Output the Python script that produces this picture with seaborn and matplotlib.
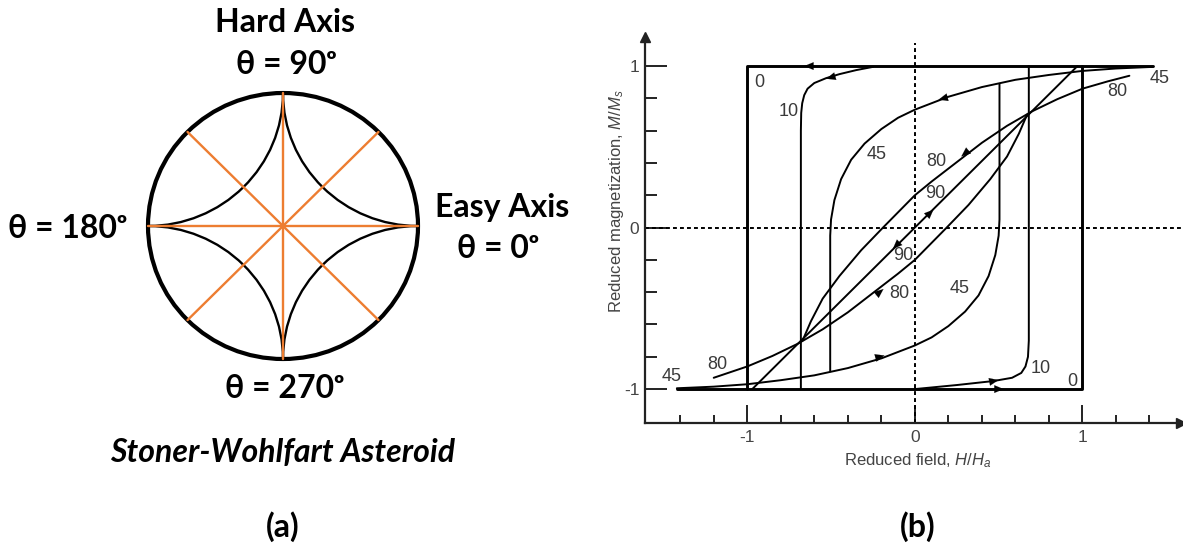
import numpy as np
import matplotlib
matplotlib.use("Agg")
import matplotlib.pyplot as plt
from matplotlib import patches
import seaborn as sns

# ---------------- data : panel (b) hysteresis loops ----------------
sq_top_H = [1.42, -1.0, -1.0]
sq_top_M = [1.0, 1.0, -1.0]
sq_bot_H = [-1.42, 1.0, 1.0]
sq_bot_M = [-1.0, -1.0, 1.0]

h10_up_H = [-0.25, -0.35, -0.45, -0.53, -0.60, -0.64, -0.66, -0.672, -0.678, -0.68, -0.68]
h10_up_M = [0.995, 0.975, 0.95, 0.925, 0.895, 0.86, 0.82, 0.77, 0.71, 0.60, -1.0]
h10_dn_H = [0.0, 0.25, 0.47, 0.58, 0.635, 0.66, 0.675, 0.68, 0.68]
h10_dn_M = [-1.0, -0.975, -0.95, -0.93, -0.90, -0.86, -0.80, -0.70, 1.0]

h45_up_H = [1.42, 1.2, 1.0, 0.8, 0.6, 0.4, 0.2, 0.0, -0.1, -0.2, -0.3, -0.38, -0.44, -0.48, -0.50, -0.505, -0.505]
h45_up_M = [0.995, 0.985, 0.97, 0.945, 0.915, 0.87, 0.81, 0.73, 0.68, 0.61, 0.52, 0.42, 0.30, 0.17, 0.05, -0.05, -0.89]
h45_dn_H = [-1.42, -1.2, -1.0, -0.8, -0.6, -0.4, -0.2, 0.0, 0.1, 0.2, 0.3, 0.38, 0.44, 0.48, 0.50, 0.505, 0.505]
h45_dn_M = [-0.995, -0.985, -0.97, -0.945, -0.915, -0.87, -0.81, -0.73, -0.68, -0.61, -0.52, -0.42, -0.30, -0.17, -0.05, 0.05, 0.89]

h80_up_H = [1.28, 1.15, 1.0, 0.85, 0.7, 0.55, 0.4, 0.3, 0.2, 0.1, 0.0, -0.19, -0.32, -0.45, -0.55, -0.62, -0.67]
h80_up_M = [0.94, 0.905, 0.86, 0.795, 0.72, 0.63, 0.525, 0.445, 0.365, 0.285, 0.2, 0.0, -0.14, -0.30, -0.44, -0.58, -0.70]
h80_dn_H = [-1.2, -1.0, -0.85, -0.7, -0.55, -0.4, -0.3, -0.2, -0.1, 0.0, 0.19, 0.32, 0.45, 0.55, 0.62, 0.67]
h80_dn_M = [-0.93, -0.86, -0.795, -0.72, -0.63, -0.525, -0.445, -0.365, -0.285, -0.2, 0.0, 0.14, 0.30, 0.44, 0.58, 0.70]

h90_H = [-0.97, 0.97]
h90_M = [-1.0, 1.0]

arrow_H = [-0.63, 0.50, -0.50, 0.47, 0.17, -0.21, 0.30, -0.21, 0.09, -0.11]
arrow_M = [1.0, -1.0, 0.93, -0.95, 0.80, -0.80, 0.46, -0.40, 0.09, -0.11]
arrow_dH = [-1, 1, -1, 1, -1, 1, -1, 1, 1, -1]
arrow_dM = [0, 0, -0.3, 0.2, -0.28, 0.28, -0.85, 0.85, 1, -1]

curve_labels = ["0", "10", "45", "80", "45", "80", "90", "90", "80", "45", "45", "80", "10", "0"]
label_H = [-0.93, -0.75, 1.46, 1.21, -0.23, 0.13, 0.12, -0.07, -0.09, 0.27, -1.45, -1.18, 0.75, 0.94]
label_M = [0.90, 0.72, 0.92, 0.84, 0.45, 0.41, 0.21, -0.17, -0.41, -0.38, -0.92, -0.85, -0.87, -0.95]

x_major = [-1, 0, 1]
x_major_labels = ["-1", "0", "1"]
x_minor = [-1.4, -1.2, -0.8, -0.6, -0.4, -0.2, 0.2, 0.4, 0.6, 0.8, 1.2, 1.4]
y_major = [-1, 0, 1]
y_major_labels = ["-1", "0", "1"]
y_minor = [-0.8, -0.6, -0.4, -0.2, 0.2, 0.4, 0.6, 0.8]

# ---------------- data : panel (a) asteroid ----------------
spoke_angles = [0, 45, 90, 135]
arc_centers_x = [1, -1, -1, 1]
arc_centers_y = [1, 1, -1, -1]
arc_start = [180, 270, 0, 90]

sns.set_theme(style="white")
plt.rcParams["mathtext.fontset"] = "custom"
plt.rcParams["mathtext.it"] = "Liberation Sans:italic"
plt.rcParams["mathtext.rm"] = "Liberation Sans"
plt.rcParams["font.family"] = ["Liberation Sans", "DejaVu Sans"]

W, H = 1183, 546
fig = plt.figure(figsize=(W / 100, H / 100), dpi=100)
fig.patch.set_facecolor("white")

def px(x, y):
    return x / W, 1 - y / H

# ---------------- panel (a) ----------------
axa = fig.add_axes([133 / W, 170 / H, 300 / W, 300 / H])
axa.set_xlim(-150 / 135, 150 / 135)
axa.set_ylim(-150 / 133, 150 / 133)
axa.axis("off")
orange = "#ED7D31"
for ang in spoke_angles:
    a = np.deg2rad(ang)
    sns.lineplot(x=[-np.cos(a), np.cos(a)], y=[-np.sin(a), np.sin(a)], sort=False,
                 estimator=None, color=orange, linewidth=1.7, ax=axa)
for cx, cy, st in zip(arc_centers_x, arc_centers_y, arc_start):
    axa.add_patch(patches.Arc((cx, cy), 2, 2, theta1=st, theta2=st + 90,
                              color="black", linewidth=1.7))
axa.add_patch(patches.Circle((0, 0), 1, fill=False, edgecolor="black", linewidth=3.0))

bold_fam = ["Lato", "Noto Sans", "DejaVu Sans"]
ta = dict(ha="center", va="center", fontsize=23, fontweight="bold", family=bold_fam, color="black")
fig.text(*px(285, 22), "Hard Axis", **ta)
fig.text(*px(286, 64), "θ = 90ᵒ", **ta)
fig.text(*px(502, 207), "Easy Axis", **ta)
fig.text(*px(498, 249), "θ = 0ᵒ", **ta)
fig.text(*px(67, 228), "θ = 180ᵒ", **ta)
fig.text(*px(285, 389), "θ = 270ᵒ", **ta)
fig.text(*px(283, 453), "Stoner-Wohlfart Asteroid", style="italic", **ta)
fig.text(*px(283, 527), "(a)", **ta)
fig.text(*px(918, 527), "(b)", **ta)

# ---------------- panel (b) ----------------
axb = fig.add_axes([645 / W, 123 / H, (1180.5 - 645) / W, 386 / H])
axb.set_xlim(-1.61, 1.585)
axb.set_ylim(-1.21, 1.18)
axb.set_facecolor("white")
for s in ["top", "right"]:
    axb.spines[s].set_visible(False)
for s in ["left", "bottom"]:
    axb.spines[s].set_linewidth(1.6)
    axb.spines[s].set_color("#222222")
axb.plot(1, 0, ">", color="#222222", markersize=6.5, transform=axb.transAxes, clip_on=False)
axb.plot(0, 1, "^", color="#222222", markersize=6.5, transform=axb.transAxes, clip_on=False)

axb.set_xticks(x_major)
axb.set_xticklabels(x_major_labels)
axb.set_xticks(x_minor, minor=True)
axb.set_yticks(y_major)
axb.set_yticklabels(y_major_labels)
axb.set_yticks(y_minor, minor=True)
axb.tick_params(axis="x", which="major", direction="in", length=13, width=1.4, color="#222222",
                pad=5, labelsize=12.5, labelcolor="#444444", bottom=True)
axb.tick_params(axis="x", which="minor", direction="in", length=6, width=1.4, color="#222222", bottom=True)
axb.tick_params(axis="y", which="major", direction="in", length=16, width=1.4, color="#222222",
                pad=4, labelsize=12.5, labelcolor="#444444", left=True)
axb.tick_params(axis="y", which="minor", direction="in", length=8.5, width=1.4, color="#222222", left=True)
axb.grid(False)

dash = (0, (2.0, 1.6))
axb.plot([-1.61, 1.585], [0, 0], color="black", lw=1.4, ls=dash)
axb.plot([0, 0], [-1.21, 1.14], color="black", lw=1.4, ls=dash)

def line(h, m, lw=1.4):
    sns.lineplot(x=h, y=m, sort=False, estimator=None, color="black", linewidth=lw, ax=axb)

line(sq_top_H, sq_top_M, 2.1)
line(sq_bot_H, sq_bot_M, 2.1)
line(h10_up_H, h10_up_M)
line(h10_dn_H, h10_dn_M)
line(h45_up_H, h45_up_M)
line(h45_dn_H, h45_dn_M)
line(h80_up_H, h80_up_M)
line(h80_dn_H, h80_dn_M)
line(h90_H, h90_M)

for h, m, dh, dm in zip(arrow_H, arrow_M, arrow_dH, arrow_dM):
    n = np.hypot(dh, dm)
    ux, uy = dh / n * 0.03, dm / n * 0.03
    axb.annotate("", xy=(h + ux, m + uy), xytext=(h - ux, m - uy),
                 arrowprops=dict(arrowstyle="-|>,head_length=0.6,head_width=0.25",
                                 color="black", lw=0.1, mutation_scale=11,
                                 shrinkA=0, shrinkB=0))

for s, h, m in zip(curve_labels, label_H, label_M):
    axb.text(h, m, s, ha="center", va="center", fontsize=13, color="#3a3a3a")

fig.text(*px(918, 461), "Reduced field, $H/H_a$", ha="center", va="center",
         fontsize=12, color="#444444")
fig.text(*px(616, 201), "Reduced magnetization, $M/M_s$", ha="center", va="center",
         rotation=90, fontsize=12, color="#444444")

fig.savefig("out.png", dpi=100, facecolor="white")
